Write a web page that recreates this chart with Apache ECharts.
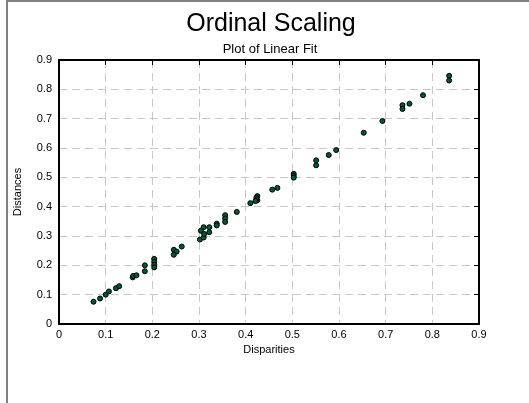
<!DOCTYPE html>
<html>
<head>
<meta charset="utf-8">
<script src="https://cdn.jsdelivr.net/npm/echarts@6/dist/echarts.min.js"></script>
<style>
  html, body { margin: 0; padding: 0; background: #ffffff; }
  #chart { width: 529px; height: 403px; }
</style>
</head>
<body>
<div id="chart"></div>
<script>
// ---- data ----
const chartTitle = 'Ordinal Scaling';
const chartSubtitle = 'Plot of Linear Fit';
const xAxisName = 'Disparities';
const yAxisName = 'Distances';
const tickValues = [0, 0.1, 0.2, 0.3, 0.4, 0.5, 0.6, 0.7, 0.8, 0.9];

const disparities = [
  0.074, 0.088, 0.100, 0.107, 0.122, 0.129, 0.158, 0.159, 0.166, 0.184,
  0.184, 0.204, 0.204, 0.204, 0.204, 0.246, 0.252, 0.246, 0.263, 0.302,
  0.310, 0.304, 0.311, 0.310, 0.322, 0.322, 0.338, 0.338, 0.356, 0.356,
  0.356, 0.381, 0.410, 0.425, 0.423, 0.425, 0.423, 0.421, 0.457, 0.468,
  0.503, 0.503, 0.503, 0.551, 0.551, 0.578, 0.594, 0.653, 0.693, 0.736,
  0.736, 0.751, 0.780, 0.836, 0.836
];
const distances = [
  0.076, 0.087, 0.100, 0.111, 0.122, 0.129, 0.159, 0.164, 0.166, 0.200,
  0.180, 0.222, 0.212, 0.202, 0.193, 0.253, 0.247, 0.236, 0.264, 0.288,
  0.295, 0.318, 0.307, 0.330, 0.330, 0.313, 0.342, 0.336, 0.371, 0.360,
  0.348, 0.382, 0.412, 0.436, 0.431, 0.422, 0.425, 0.419, 0.458, 0.464,
  0.512, 0.505, 0.499, 0.558, 0.541, 0.576, 0.593, 0.652, 0.692, 0.746,
  0.733, 0.751, 0.780, 0.846, 0.830
];

const points = disparities.map((x, i) => [x, distances[i]]);
const axisMin = tickValues[0];
const axisMax = tickValues[tickValues.length - 1];
const step = tickValues[1] - tickValues[0];

const chart = echarts.init(document.getElementById('chart'), null, { renderer: 'canvas' });
const FONT = 'Liberation Sans, Arial, sans-serif';
const fmt = v => (Math.abs(v) < 1e-9 ? '0' : String(+v.toFixed(1)));

const gridDash = { show: true, lineStyle: { color: '#c8c8c8', type: [8, 5], width: 1 } };

chart.setOption({
  backgroundColor: '#ffffff',
  animation: false,
  title: [
    { text: chartTitle, left: 266, top: 7, textAlign: 'center',
      textStyle: { fontFamily: FONT, fontSize: 25, fontWeight: 'normal', color: '#000' } },
    { text: chartSubtitle, left: 265, top: 38, textAlign: 'center',
      textStyle: { fontFamily: FONT, fontSize: 13, fontWeight: 'normal', color: '#000' } }
  ],
  grid: { left: 59, right: 50, top: 60, bottom: 79, containLabel: false },
  xAxis: [
    { type: 'value', position: 'bottom', min: axisMin, max: axisMax, interval: step,
      name: xAxisName, nameLocation: 'middle', nameGap: 18,
      nameTextStyle: { fontFamily: FONT, fontSize: 11, color: '#000' },
      axisLine: { show: true, onZero: false, lineStyle: { color: '#000', width: 2 } },
      axisTick: { show: false },
      axisLabel: { fontFamily: FONT, fontSize: 11, color: '#000', margin: 5, formatter: fmt },
      splitLine: gridDash },
    { type: 'value', position: 'top', min: axisMin, max: axisMax, interval: step,
      axisLine: { show: true, onZero: false, lineStyle: { color: '#000', width: 2 } },
      axisTick: { show: true, inside: true, length: 5, lineStyle: { color: '#000', width: 1 } },
      axisLabel: { show: false }, splitLine: { show: false } }
  ],
  yAxis: [
    { type: 'value', position: 'left', min: axisMin, max: axisMax, interval: step,
      name: yAxisName, nameLocation: 'middle', nameGap: 36, nameRotate: 90,
      nameTextStyle: { fontFamily: FONT, fontSize: 11, color: '#000' },
      axisLine: { show: true, onZero: false, lineStyle: { color: '#000', width: 2 } },
      axisTick: { show: false },
      axisLabel: { fontFamily: FONT, fontSize: 11, color: '#000', margin: 7, formatter: fmt },
      splitLine: gridDash },
    { type: 'value', position: 'right', min: axisMin, max: axisMax, interval: step,
      axisLine: { show: true, onZero: false, lineStyle: { color: '#000', width: 2 } },
      axisTick: { show: true, inside: true, length: 5, lineStyle: { color: '#000', width: 1 } },
      axisLabel: { show: false }, splitLine: { show: false } }
  ],
  graphic: [
    { type: 'line', shape: { x1: 7, y1: 0, x2: 7, y2: 403 }, style: { stroke: '#808080', lineWidth: 2 } },
    { type: 'line', shape: { x1: 7, y1: 1, x2: 529, y2: 1 }, style: { stroke: '#808080', lineWidth: 2 } }
  ],
  series: [
    { type: 'scatter', xAxisIndex: 0, yAxisIndex: 0, data: points,
      symbol: 'circle', symbolSize: 5,
      itemStyle: { color: '#005a36', borderColor: '#000', borderWidth: 1, opacity: 1 } }
  ]
});
</script>
</body>
</html>
